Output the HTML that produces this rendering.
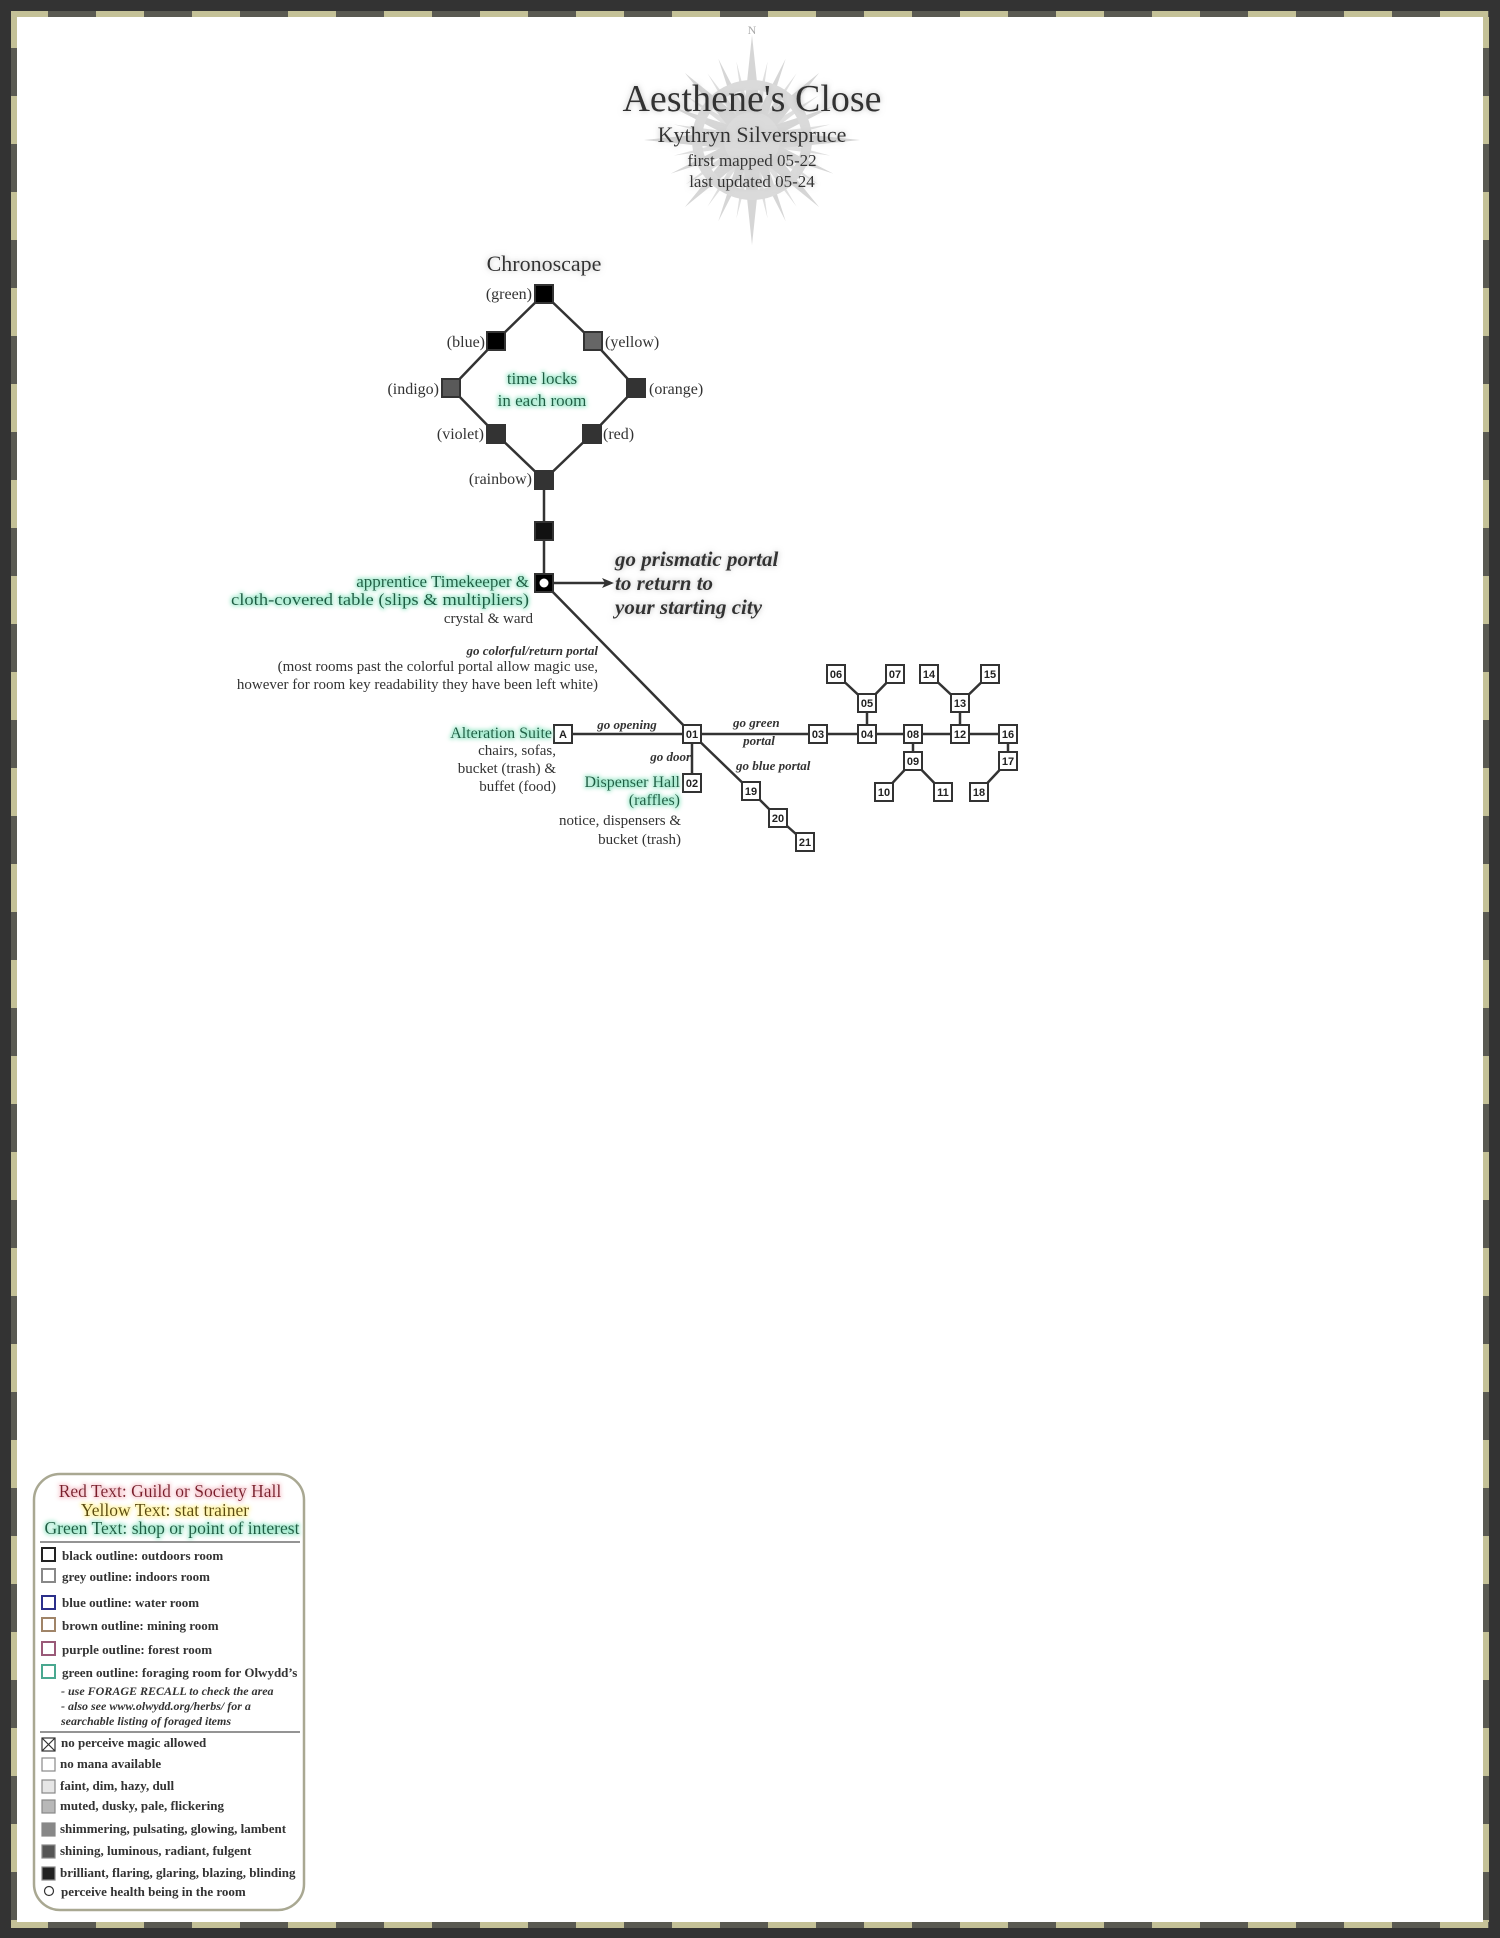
<!DOCTYPE html>
<html><head><meta charset="utf-8"><style>
html,body{margin:0;padding:0;background:#fff}
svg{display:block}
text{font-family:"Liberation Serif",serif;fill:#333}
.s{font-family:"Liberation Sans",sans-serif;font-weight:bold;font-size:11px;fill:#222}
.g{fill:#1d5c42;filter:url(#glowG)}
.bi{font-weight:bold;font-style:italic}
.lg{font-size:13px;font-weight:bold;fill:#333}
.li{font-size:12px;font-style:italic;fill:#333;font-weight:bold}
</style></head><body>
<svg width="1500" height="1938" viewBox="0 0 1500 1938" xmlns="http://www.w3.org/2000/svg">
<defs>
<filter id="glowG" x="-20%" y="-50%" width="140%" height="200%">
<feMorphology in="SourceAlpha" operator="dilate" radius="1" result="d"/>
<feGaussianBlur in="d" stdDeviation="2" result="b"/>
<feFlood flood-color="#9be8c9"/><feComposite in2="b" operator="in" result="gl"/>
<feMerge><feMergeNode in="gl"/><feMergeNode in="SourceGraphic"/></feMerge></filter>
<filter id="glowY" x="-20%" y="-50%" width="140%" height="200%">
<feMorphology in="SourceAlpha" operator="dilate" radius="1" result="d"/>
<feGaussianBlur in="d" stdDeviation="2" result="b"/>
<feFlood flood-color="#fff29a"/><feComposite in2="b" operator="in" result="gl"/>
<feMerge><feMergeNode in="gl"/><feMergeNode in="SourceGraphic"/></feMerge></filter>
<filter id="glowR" x="-20%" y="-50%" width="140%" height="200%">
<feMorphology in="SourceAlpha" operator="dilate" radius="1" result="d"/>
<feGaussianBlur in="d" stdDeviation="2" result="b"/>
<feFlood flood-color="#f7c4cc"/><feComposite in2="b" operator="in" result="gl"/>
<feMerge><feMergeNode in="gl"/><feMergeNode in="SourceGraphic"/></feMerge></filter>
<filter id="glowW" x="-10%" y="-40%" width="120%" height="180%">
<feGaussianBlur in="SourceAlpha" stdDeviation="3" result="b"/>
<feFlood flood-color="#bbb"/><feComposite in2="b" operator="in" result="gl"/>
<feMerge><feMergeNode in="gl"/><feMergeNode in="SourceGraphic"/></feMerge></filter>
<pattern id="chkH" width="96" height="10" patternUnits="userSpaceOnUse"><rect width="48" height="10" fill="#c4c197"/><rect x="48" width="48" height="10" fill="#5a5a52"/></pattern>
<pattern id="chkV" width="10" height="96" patternUnits="userSpaceOnUse"><rect width="10" height="48" fill="#c4c197"/><rect y="48" width="10" height="48" fill="#5a5a52"/></pattern>
</defs>
<rect width="1500" height="1938" fill="#333"/>
<rect x="11" y="11" width="1478" height="1917" fill="url(#chkH)"/>
<rect x="11" y="17" width="6" height="1905" fill="url(#chkV)"/>
<rect x="1483" y="17" width="6" height="1905" fill="url(#chkV)"/>
<rect x="17" y="17" width="1466" height="1905" fill="#fff"/>

<g transform="translate(752,140)" fill="#d2d2d2" opacity="0.9">
<polygon points="0,-105 9,-20 0,0 -9,-20"/><polygon points="0,105 9,20 0,0 -9,20"/>
<polygon points="-108,0 -20,9 0,0 -20,-9"/><polygon points="108,0 20,9 0,0 20,-9"/>
<g transform="rotate(45)"><polygon points="0,-95 8,-18 0,0 -8,-18"/><polygon points="0,95 8,18 0,0 -8,18"/><polygon points="-95,0 -18,8 0,0 -18,-8"/><polygon points="95,0 18,8 0,0 18,-8"/></g>
<g transform="rotate(22.5)"><polygon points="0,-88 6,-15 0,0 -6,-15"/><polygon points="0,88 6,15 0,0 -6,15"/><polygon points="-88,0 -15,6 0,0 -15,-6"/><polygon points="88,0 15,6 0,0 15,-6"/></g>
<g transform="rotate(67.5)"><polygon points="0,-88 6,-15 0,0 -6,-15"/><polygon points="0,88 6,15 0,0 -6,15"/><polygon points="-88,0 -15,6 0,0 -15,-6"/><polygon points="88,0 15,6 0,0 15,-6"/></g>
<g transform="rotate(11.25)" opacity="0.8"><polygon points="0,-80 4,-15 0,0 -4,-15"/><polygon points="0,80 4,15 0,0 -4,15"/><polygon points="-80,0 -15,4 0,0 -15,-4"/><polygon points="80,0 15,4 0,0 15,-4"/></g>
<g transform="rotate(33.75)" opacity="0.8"><polygon points="0,-80 4,-15 0,0 -4,-15"/><polygon points="0,80 4,15 0,0 -4,15"/><polygon points="-80,0 -15,4 0,0 -15,-4"/><polygon points="80,0 15,4 0,0 15,-4"/></g>
<g transform="rotate(56.25)" opacity="0.8"><polygon points="0,-80 4,-15 0,0 -4,-15"/><polygon points="0,80 4,15 0,0 -4,15"/><polygon points="-80,0 -15,4 0,0 -15,-4"/><polygon points="80,0 15,4 0,0 15,-4"/></g>
<g transform="rotate(78.75)" opacity="0.8"><polygon points="0,-80 4,-15 0,0 -4,-15"/><polygon points="0,80 4,15 0,0 -4,15"/><polygon points="-80,0 -15,4 0,0 -15,-4"/><polygon points="80,0 15,4 0,0 15,-4"/></g>
<circle r="55" fill="none" stroke="#d6d6d6" stroke-width="10"/>
<circle r="28" fill="#d8d8d8"/>
</g>
<text x="752" y="34" font-size="12" text-anchor="middle" style="fill:#aaa">N</text>

<g filter="url(#glowW)">
<text x="752" y="111" font-size="38" text-anchor="middle">Aesthene's Close</text>
<text x="752" y="142" font-size="22" text-anchor="middle">Kythryn Silverspruce</text>
<text x="752" y="166" font-size="17" text-anchor="middle">first mapped 05-22</text>
<text x="752" y="187" font-size="17" text-anchor="middle">last updated 05-24</text>
</g>

<text x="544" y="271" font-size="22" text-anchor="middle" filter="url(#glowW)">Chronoscape</text>
<g stroke="#333" stroke-width="2.5" fill="none">
<polyline points="544,294 496,341 451,388 496,434 544,480 592,434 636,388 593,341 544,294"/>
<line x1="544" y1="480" x2="544" y2="583"/>
<line x1="544" y1="583" x2="692" y2="734"/>
<line x1="544" y1="583" x2="606" y2="583"/>
</g>
<polygon points="614,583 602,578 605,583 602,588" fill="#333"/>
<g stroke="#333" stroke-width="2">
<rect x="535" y="285" width="18" height="18" fill="#000"/>
<rect x="487" y="332" width="18" height="18" fill="#000"/>
<rect x="584" y="332" width="18" height="18" fill="#666"/>
<rect x="442" y="379" width="18" height="18" fill="#595959"/>
<rect x="627" y="379" width="18" height="18" fill="#333"/>
<rect x="487" y="425" width="18" height="18" fill="#333"/>
<rect x="583" y="425" width="18" height="18" fill="#333"/>
<rect x="535" y="471" width="18" height="18" fill="#333"/>
<rect x="535" y="522" width="18" height="18" fill="#111"/>
<rect x="535" y="574" width="18" height="18" fill="#000"/>
</g>
<circle cx="544" cy="583" r="4.5" fill="#fff"/>
<text x="532" y="299" text-anchor="end" font-size="16">(green)</text>
<text x="485" y="347" text-anchor="end" font-size="16">(blue)</text>
<text x="605" y="347" font-size="16">(yellow)</text>
<text x="439" y="394" text-anchor="end" font-size="16">(indigo)</text>
<text x="649" y="394" font-size="16">(orange)</text>
<text x="484" y="439" text-anchor="end" font-size="16">(violet)</text>
<text x="603" y="439" font-size="16">(red)</text>
<text x="532" y="484" text-anchor="end" font-size="16">(rainbow)</text>
<text x="542" y="384" font-size="17" text-anchor="middle" class="g">time locks</text>
<text x="542" y="406" font-size="17" text-anchor="middle" class="g">in each room</text>
<text x="529" y="587" font-size="17" text-anchor="end" class="g">apprentice Timekeeper &amp;</text>
<text x="529" y="605" font-size="17" text-anchor="end" class="g" textLength="298" lengthAdjust="spacingAndGlyphs">cloth-covered table (slips &amp; multipliers)</text>
<text x="533" y="623" font-size="15" text-anchor="end">crystal &amp; ward</text>
<g filter="url(#glowW)">
<text x="615" y="566" font-size="21" class="bi">go prismatic portal</text>
<text x="615" y="590" font-size="21" class="bi">to return to</text>
<text x="615" y="614" font-size="21" class="bi">your starting city</text>
</g>
<text x="598" y="655" font-size="13" text-anchor="end" class="bi">go colorful/return portal</text>
<text x="598" y="671" font-size="15" text-anchor="end">(most rooms past the colorful portal allow magic use,</text>
<text x="598" y="689" font-size="15" text-anchor="end">however for room key readability they have been left white)</text>

<g stroke="#333" stroke-width="2.5" fill="none">
<line x1="563" y1="734" x2="1008" y2="734"/>
<line x1="692" y1="734" x2="692" y2="783"/>
<polyline points="692,734 751,791 778,818 805,842"/>
<polyline points="836,674 867,703 895,674"/><line x1="867" y1="703" x2="867" y2="734"/>
<polyline points="929,674 960,703 990,674"/><line x1="960" y1="703" x2="960" y2="734"/>
<line x1="913" y1="734" x2="913" y2="761"/><polyline points="884,792 913,761 943,792"/>
<polyline points="1008,734 1008,761 979,792"/>
</g>
<g stroke="#333" stroke-width="2" fill="#fff">
<rect x="554" y="725" width="18" height="18"/><rect x="683" y="725" width="18" height="18"/>
<rect x="809" y="725" width="18" height="18"/><rect x="858" y="725" width="18" height="18"/>
<rect x="904" y="725" width="18" height="18"/><rect x="951" y="725" width="18" height="18"/>
<rect x="999" y="725" width="18" height="18"/>
<rect x="858" y="694" width="18" height="18"/><rect x="827" y="665" width="18" height="18"/>
<rect x="886" y="665" width="18" height="18"/><rect x="951" y="694" width="18" height="18"/>
<rect x="920" y="665" width="18" height="18"/><rect x="981" y="665" width="18" height="18"/>
<rect x="904" y="752" width="18" height="18"/><rect x="875" y="783" width="18" height="18"/>
<rect x="934" y="783" width="18" height="18"/><rect x="999" y="752" width="18" height="18"/>
<rect x="970" y="783" width="18" height="18"/><rect x="683" y="774" width="18" height="18"/>
<rect x="742" y="782" width="18" height="18"/><rect x="769" y="809" width="18" height="18"/>
<rect x="796" y="833" width="18" height="18"/>
</g>
<g text-anchor="middle">
<text class="s" x="563" y="738">A</text><text class="s" x="692" y="738">01</text>
<text class="s" x="818" y="738">03</text><text class="s" x="867" y="738">04</text>
<text class="s" x="913" y="738">08</text><text class="s" x="960" y="738">12</text>
<text class="s" x="1008" y="738">16</text><text class="s" x="867" y="707">05</text>
<text class="s" x="836" y="678">06</text><text class="s" x="895" y="678">07</text>
<text class="s" x="960" y="707">13</text><text class="s" x="929" y="678">14</text>
<text class="s" x="990" y="678">15</text><text class="s" x="913" y="765">09</text>
<text class="s" x="884" y="796">10</text><text class="s" x="943" y="796">11</text>
<text class="s" x="1008" y="765">17</text><text class="s" x="979" y="796">18</text>
<text class="s" x="692" y="787">02</text><text class="s" x="751" y="795">19</text>
<text class="s" x="778" y="822">20</text><text class="s" x="805" y="846">21</text>
</g>
<text x="627" y="729" font-size="13" text-anchor="middle" class="bi">go opening</text>
<text x="733" y="727" font-size="13" class="bi">go green</text>
<text x="759" y="745" font-size="13" text-anchor="middle" class="bi">portal</text>
<text x="691" y="761" font-size="13" text-anchor="end" class="bi">go door</text>
<text x="736" y="770" font-size="13" class="bi">go blue portal</text>
<text x="552" y="738" font-size="16" text-anchor="end" class="g">Alteration Suite</text>
<text x="556" y="755" font-size="15" text-anchor="end">chairs, sofas,</text>
<text x="556" y="773" font-size="15" text-anchor="end">bucket (trash) &amp;</text>
<text x="556" y="791" font-size="15" text-anchor="end">buffet (food)</text>
<text x="680" y="787" font-size="16" text-anchor="end" class="g">Dispenser Hall</text>
<text x="680" y="805" font-size="16" text-anchor="end" class="g">(raffles)</text>
<text x="681" y="825" font-size="15" text-anchor="end">notice, dispensers &amp;</text>
<text x="681" y="844" font-size="15" text-anchor="end">bucket (trash)</text>

<rect x="34" y="1474" width="270" height="436" rx="26" fill="#fff" stroke="#a9a892" stroke-width="2.5"/>
<text x="170" y="1497" font-size="17.5" text-anchor="middle" style="fill:#7a1e2c" filter="url(#glowR)">Red Text: Guild or Society Hall</text>
<text x="165" y="1516" font-size="17.5" text-anchor="middle" style="fill:#5a4a08" filter="url(#glowY)">Yellow Text: stat trainer</text>
<text x="172" y="1534" font-size="17.5" text-anchor="middle" style="fill:#1d5c42" filter="url(#glowG)" textLength="255" lengthAdjust="spacingAndGlyphs">Green Text: shop or point of interest</text>
<line x1="40" y1="1542" x2="300" y2="1542" stroke="#555" stroke-width="1.2"/>
<g stroke-width="2" fill="#fff">
<rect x="42" y="1548" width="13" height="13" stroke="#222"/>
<rect x="42" y="1569" width="13" height="13" stroke="#888"/>
<rect x="42" y="1596" width="13" height="13" stroke="#2b2f8a"/>
<rect x="42" y="1618" width="13" height="13" stroke="#a08468"/>
<rect x="42" y="1642" width="13" height="13" stroke="#9a5a78"/>
<rect x="42" y="1665" width="13" height="13" stroke="#4aa890"/>
</g>
<text class="lg" x="62" y="1560">black outline: outdoors room</text>
<text class="lg" x="62" y="1581">grey outline: indoors room</text>
<text class="lg" x="62" y="1607">blue outline: water room</text>
<text class="lg" x="62" y="1630">brown outline: mining room</text>
<text class="lg" x="62" y="1654">purple outline: forest room</text>
<text class="lg" x="62" y="1677">green outline: foraging room for Olwydd’s</text>
<text class="li" x="61" y="1695">- use FORAGE RECALL to check the area</text>
<text class="li" x="61" y="1710">- also see www.olwydd.org/herbs/ for a</text>
<text class="li" x="61" y="1725">searchable listing of foraged items</text>
<line x1="40" y1="1732" x2="300" y2="1732" stroke="#555" stroke-width="1.2"/>
<g stroke="#888" stroke-width="1.2">
<rect x="42" y="1738" width="13" height="13" fill="#fff" stroke="#333"/>
<line x1="42" y1="1738" x2="55" y2="1751" stroke="#333"/><line x1="55" y1="1738" x2="42" y2="1751" stroke="#333"/>
<rect x="42" y="1758" width="13" height="13" fill="#fff"/>
<rect x="42" y="1780" width="13" height="13" fill="#e6e6e6"/>
<rect x="42" y="1800" width="13" height="13" fill="#b8b8b8"/>
<rect x="42" y="1823" width="13" height="13" fill="#888"/>
<rect x="42" y="1845" width="13" height="13" fill="#555"/>
<rect x="42" y="1867" width="13" height="13" fill="#222"/>
<circle cx="49" cy="1891" r="4.5" fill="#fff" stroke="#333"/>
</g>
<text class="lg" x="61" y="1747">no perceive magic allowed</text>
<text class="lg" x="60" y="1768">no mana available</text>
<text class="lg" x="60" y="1790">faint, dim, hazy, dull</text>
<text class="lg" x="60" y="1810">muted, dusky, pale, flickering</text>
<text class="lg" x="60" y="1833">shimmering, pulsating, glowing, lambent</text>
<text class="lg" x="60" y="1855">shining, luminous, radiant, fulgent</text>
<text class="lg" x="60" y="1877">brilliant, flaring, glaring, blazing, blinding</text>
<text class="lg" x="61" y="1896">perceive health being in the room</text>
</svg>
</body></html>
